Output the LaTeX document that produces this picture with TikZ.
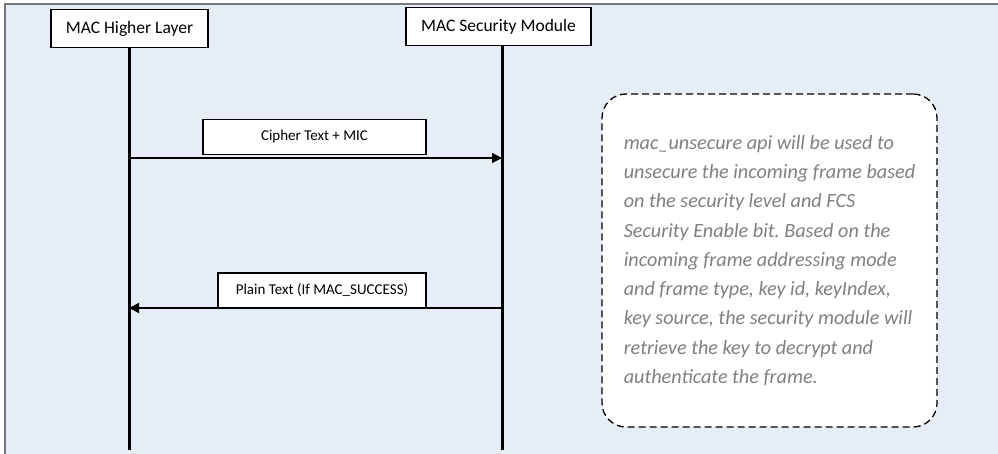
\documentclass[tikz,border=0pt]{standalone}
\usepackage{fontspec}
\setmainfont{Carlito}
\usepackage{tikz}
\usetikzlibrary{arrows.meta, positioning}

\definecolor{bgblue}{RGB}{230,237,247}
\definecolor{framegray}{RGB}{120,120,120}
\definecolor{notegray}{RGB}{128,128,128}
\frenchspacing

\begin{document}
\begin{tikzpicture}[
    x=1pt, y=-1pt,
    >={Triangle[length=10pt, width=10pt]},
    actor/.style={
        rectangle, draw=black, line width=1.3pt, fill=white,
        minimum height=38pt, inner sep=0pt, align=center,
        font=\fontsize{17.5}{21}\selectfont
    },
    msg/.style={
        rectangle, draw=black, line width=1.3pt, fill=white,
        minimum height=35pt, inner sep=0pt, align=center,
        font=\fontsize{15}{18}\selectfont
    },
    lifeline/.style={line width=3pt, black},
    arrow/.style={->, line width=1.4pt, black},
    note/.style={
        rectangle, rounded corners=24pt, draw=black, line width=1.3pt,
        dash pattern=on 7pt off 4pt, fill=white,
        minimum width=335pt, minimum height=333pt,
        align=left, inner sep=0pt,
        text=notegray, font=\fontsize{20.2}{29.3}\selectfont\itshape
    },
]

% Canvas
\useasboundingbox (0,0) rectangle (998,454);
\fill[bgblue] (5,5) rectangle (998,454);
\draw[framegray, line width=2pt] (998,4) -- (5,4) -- (5,454);

% Actors
\node[actor, minimum width=157pt] (higher) at (129.5,28.5) {MAC Higher Layer};
\node[actor, minimum width=185pt] (secmod) at (498.5,26.5) {MAC Security Module};

% Lifelines
\coordinate (higherEnd) at (129,450);
\coordinate (secmodEnd) at (502,450);
\draw[lifeline] (higher.south -| higherEnd) -- (higherEnd);
\draw[lifeline] (secmod.south -| secmodEnd) -- (secmodEnd);

% Messages
\coordinate (req) at (129,158);
\coordinate (resp) at (502,308);
\draw[arrow] (req) -- (req -| secmodEnd);
\node[msg, minimum width=223pt] (cipher) at (314.5,137) {Cipher Text + MIC};
\draw[arrow] (resp) -- (resp -| higherEnd);
\node[msg, minimum width=208pt] (plain) at (322,290.5) {Plain Text (If MAC\_SUCCESS)};

% Note
\node[note] (api) at (769.5,260.5) {mac\_unsecure api will be used to\\
unsecure the incoming frame based\\
on the security level and FCS\\
Security Enable bit. Based on the\\
incoming frame addressing mode\\
and frame type, key id, keyIndex,\\
key source, the security module will\\
retrieve the key to decrypt and\\
authenticate the frame.};

\end{tikzpicture}
\end{document}
